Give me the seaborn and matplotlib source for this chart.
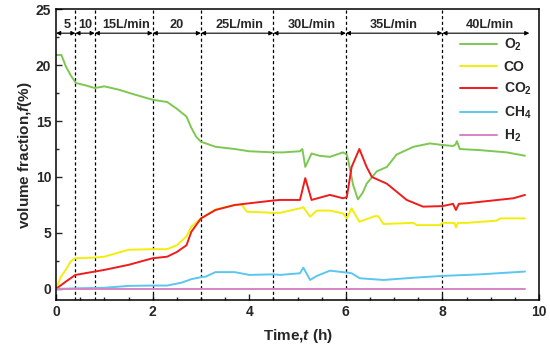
import numpy as np
import pandas as pd
import matplotlib
matplotlib.use("Agg")
import matplotlib.pyplot as plt
import seaborn as sns
from matplotlib.ticker import MultipleLocator

sns.set_style("ticks")
plt.rcParams['font.family'] = ['Liberation Sans', 'DejaVu Sans']
plt.rcParams['font.weight'] = 'bold'
plt.rcParams['mathtext.default'] = 'bf'
plt.rcParams['mathtext.fontset'] = 'custom'
plt.rcParams['mathtext.bf'] = 'Liberation Sans:bold'
plt.rcParams['mathtext.bfit'] = 'Liberation Sans:bold:italic'

# values
t_o2 = [0, 0.11, 0.2, 0.3, 0.41, 0.6, 0.8, 1.0, 1.3, 1.6, 2.0, 2.3, 2.5, 2.7, 2.8, 2.9, 3.0, 3.3, 3.7, 4.0,
        4.5, 4.7, 5.05, 5.1, 5.16, 5.29, 5.45, 5.67, 5.94, 6.02, 6.05, 6.15, 6.25, 6.35, 6.43, 6.64, 6.85,
        7.05, 7.4, 7.74, 8.0, 8.22, 8.27, 8.3, 8.36, 8.78, 9.33, 9.71]
o2 = [20.9, 20.9, 19.9, 19.1, 18.4, 18.2, 17.95, 18.1, 17.8, 17.4, 16.9, 16.7, 16.1, 15.4, 14.4, 13.6,
      13.15, 12.7, 12.5, 12.3, 12.2, 12.2, 12.3, 12.5, 10.9, 12.1, 11.9, 11.8, 12.2, 12.0, 11.5, 9.3, 8.0,
      8.6, 9.4, 10.5, 10.9, 12.0, 12.7, 13.0, 12.86, 12.77, 12.9, 13.2, 12.5, 12.4, 12.2, 11.9]

t_co = [0, 0.1, 0.2, 0.3, 0.4, 0.8, 1.0, 1.5, 2.0, 2.3, 2.5, 2.7, 2.8, 3.0, 3.3, 3.7, 3.85, 3.95, 4.5,
        4.64, 5.05, 5.12, 5.26, 5.4, 5.67, 5.94, 6.02, 6.12, 6.28, 6.6, 6.67, 6.78, 7.4, 7.47, 7.95, 8.0,
        8.25, 8.28, 8.32, 8.5, 9.12, 9.2, 9.71]
co = [0, 1.1, 1.7, 2.44, 2.74, 2.8, 2.88, 3.5, 3.55, 3.55, 3.9, 4.7, 5.55, 6.3, 7.1, 7.5, 7.5, 6.9, 6.8,
      6.8, 7.2, 7.3, 6.45, 7.0, 7.0, 6.75, 6.3, 7.2, 6.0, 6.5, 6.5, 5.8, 5.9, 5.7, 5.7, 5.9, 5.9, 5.5,
      5.9, 5.9, 6.1, 6.3, 6.3]

t_co2 = [0, 0.2, 0.4, 0.8, 1.0, 1.5, 2.0, 2.3, 2.5, 2.7, 2.8, 3.0, 3.3, 3.7, 4.0, 4.5, 4.64, 5.05, 5.16,
         5.29, 5.67, 5.94, 6.02, 6.12, 6.28, 6.43, 6.54, 6.85, 7.02, 7.26, 7.6, 8.0, 8.22, 8.28, 8.34, 8.5,
         9.47, 9.71]
co2 = [0, 0.65, 1.25, 1.55, 1.7, 2.15, 2.74, 2.88, 3.3, 3.9, 5.1, 6.3, 7.05, 7.5, 7.65, 7.9, 7.95, 7.95,
       9.9, 7.95, 8.4, 8.1, 8.2, 10.9, 12.5, 10.9, 10.0, 9.4, 8.8, 7.95, 7.35, 7.4, 7.6, 7.05, 7.6, 7.65,
       8.1, 8.4]

t_ch4 = [0, 0.4, 1.0, 1.5, 2.0, 2.3, 2.6, 2.8, 3.0, 3.1, 3.3, 3.7, 4.0, 4.5, 4.64, 5.05, 5.12, 5.26,
         5.4, 5.67, 6.02, 6.12, 6.29, 6.78, 7.4, 8.0, 8.78, 9.71]
ch4 = [0, 0.05, 0.1, 0.27, 0.3, 0.3, 0.56, 0.87, 1.05, 1.1, 1.5, 1.5, 1.25, 1.3, 1.25, 1.4, 1.9, 0.8,
       1.16, 1.63, 1.46, 1.4, 0.95, 0.8, 1.0, 1.16, 1.3, 1.55]

t_h2 = [0, 9.71]
h2 = [0, 0]

gases = ['O2', 'CO', 'CO2', 'CH4', 'H2']
labels = ['O$_2$', 'CO', 'CO$_2$', 'CH$_4$', 'H$_2$']
colors = ['#7dc852', '#f2ee0a', '#ee1c1c', '#5bc6f0', '#d783c4']

boundaries = [0, 0.4, 0.8, 2, 3, 4.5, 6, 8, 9.8]
flow_labels = ['5', '10', '15L/min', '20', '25L/min', '30L/min', '35L/min', '40L/min']
label_x = [0.22, 0.6, 1.46, 2.5, 3.8, 5.3, 6.98, 8.98]

frames = []
for g, t, v in zip(gases, [t_o2, t_co, t_co2, t_ch4, t_h2], [o2, co, co2, ch4, h2]):
    frames.append(pd.DataFrame({'t': t, 'f': v, 'gas': g}))
df = pd.concat(frames, ignore_index=True)

fig, ax = plt.subplots(figsize=(5.5, 3.51), dpi=100)
fig.subplots_adjust(left=0.102, right=0.98, top=0.974, bottom=0.145)

sns.lineplot(data=df, x='t', y='f', hue='gas', hue_order=gases, palette=colors,
             sort=False, estimator=None, lw=1.4, ax=ax)

for b in boundaries[1:-1]:
    ax.axvline(b, color='black', ls=(0, (2.5, 2)), lw=0.9, zorder=1)

for i, lab in enumerate(flow_labels):
    ax.annotate('', xy=(boundaries[i], 22.85), xytext=(boundaries[i + 1], 22.85),
                arrowprops=dict(arrowstyle='<|-|>', color='black', lw=0.8,
                                mutation_scale=6, shrinkA=0, shrinkB=0))
    ax.text(label_x[i], 23.6, lab, ha='center', va='center', fontsize=9.2, fontweight='bold')

handles, _ = ax.get_legend_handles_labels()
ax.legend(handles, labels, loc='upper left', bbox_to_anchor=(0.836, 0.905), frameon=False,
          fontsize=10, handlelength=2.7, labelspacing=0.5, handletextpad=0.45,
          borderpad=0, borderaxespad=0)

ax.set_xlim(0, 10)
ax.set_ylim(-1, 25)
ax.xaxis.set_major_locator(MultipleLocator(2))
ax.xaxis.set_minor_locator(MultipleLocator(0.5))
ax.yaxis.set_major_locator(MultipleLocator(5))
ax.yaxis.set_minor_locator(MultipleLocator(2.5))
ax.tick_params(which='both', direction='in', top=False, right=False, labelsize=10, width=1)
ax.tick_params(which='major', length=4)
ax.tick_params(which='minor', length=2.5)
for s in ax.spines.values():
    s.set_linewidth(1.1)
    s.set_color('black')

ax.set_xlabel('Time,$\\mathbfit{t}$ (h)', fontsize=11, fontweight='bold', labelpad=6)
ax.set_ylabel('volume fraction,$\\mathbfit{f}$(%)', fontsize=11, fontweight='bold', labelpad=1)

fig.savefig('out.png', dpi=100)
